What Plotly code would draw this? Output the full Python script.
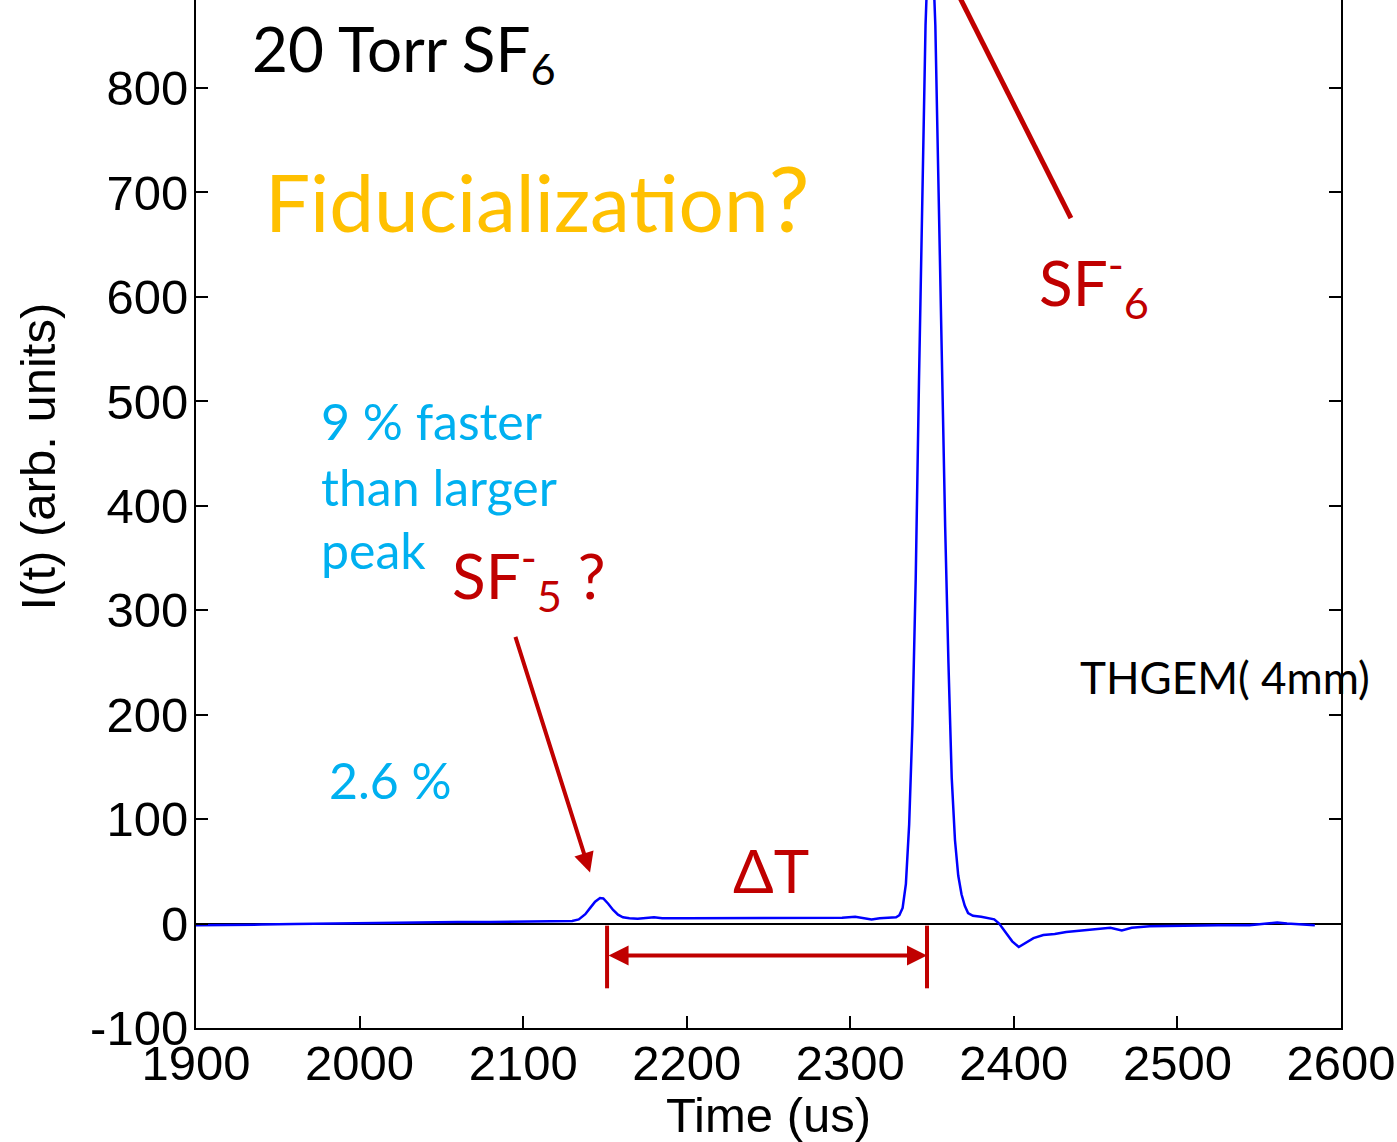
import plotly.graph_objects as go

# Measured current trace, 20 Torr SF6
time_us = [1900, 1920, 1940, 1960, 1980, 2000, 2020, 2040, 2060, 2080, 2100, 2120,
           2130, 2134, 2138, 2141, 2144, 2147, 2149, 2152, 2155, 2158, 2161, 2165,
           2170, 2180, 2185, 2200, 2220, 2240, 2260, 2280, 2295, 2303, 2308, 2313,
           2318, 2325, 2328, 2330, 2332, 2334, 2336, 2338, 2340, 2342, 2344, 2346,
           2348, 2349, 2350, 2352, 2354, 2356, 2358, 2360, 2362, 2364, 2366, 2368,
           2370, 2372, 2375, 2380, 2385, 2388, 2391, 2395, 2399, 2403, 2407, 2412,
           2418, 2425, 2432, 2445, 2459, 2466, 2472, 2483, 2503, 2525, 2544, 2555,
           2561, 2567, 2575, 2584]
current = [-1.5, -1.5, -1, -0.5, 0, 0.5, 1, 1, 1.5, 1.5, 2, 2,
           2.5, 4, 9, 15, 21, 24.5, 24, 19, 13, 8.5, 6, 5,
           4.5, 6, 5, 5, 5, 5, 5, 5, 5.5, 6.5, 5, 4,
           5, 5.5, 6, 8, 15, 38, 95, 190, 330, 520, 710, 860,
           950, 960, 945, 860, 700, 520, 380, 250, 140, 80, 46, 28,
           17, 10, 7.5, 6.5, 5, 4, 0, -8, -17, -22.5, -19, -14,
           -11, -10, -8, -6, -4, -6.5, -4, -2.5, -1.7, -1.5, -1.5, 0,
           1, 0, -1, -1.5]

x_ticks = [1900, 2000, 2100, 2200, 2300, 2400, 2500, 2600]
y_ticks = [-100, 0, 100, 200, 300, 400, 500, 600, 700, 800]
y_tick_labels = ["-100", "0", "100", "200", "300", "400", "500", "600", "700", "800"]

# Drift-time markers for the two peaks
t_small_peak = 2151.3
t_main_peak = 2346.9

AXIS_FONT = "Liberation Sans"
TEXT_FONT = "Lato"
RED = "#C00000"
CYAN = "#00B0F0"
ORANGE = "#FFC000"

fig = go.Figure()
fig.add_trace(go.Scatter(x=time_us, y=current, mode="lines",
                         line=dict(color="#0000FF", width=2.5),
                         showlegend=False, hoverinfo="skip"))

annotations = [
    dict(x=1933, y=834, text="20 Torr SF<sub>6</sub>",
         font=dict(family=TEXT_FONT, size=62, color="black")),
    dict(x=1941, y=696,
         text="Fiducialization<span style='font-size:92px'>?</span>",
         font=dict(family=TEXT_FONT, size=80, color=ORANGE)),
    dict(x=2414, y=614, text="SF<sup>-</sup><sub>6</sub>",
         font=dict(family=TEXT_FONT, size=62, color=RED)),
    dict(x=1975, y=481, text="9 % faster",
         font=dict(family=TEXT_FONT, size=50, color=CYAN)),
    dict(x=1975, y=418, text="than larger",
         font=dict(family=TEXT_FONT, size=50, color=CYAN)),
    dict(x=1975, y=358, text="peak",
         font=dict(family=TEXT_FONT, size=50, color=CYAN)),
    dict(x=2055, y=333, text="SF<sup>-</sup><sub>5</sub> ?",
         font=dict(family=TEXT_FONT, size=62, color=RED)),
    dict(x=1980, y=137, text="2.6 %",
         font=dict(family=TEXT_FONT, size=50, color=CYAN)),
    dict(x=2227, y=51, text="ΔT",
         font=dict(family=TEXT_FONT, size=60, color=RED)),
    dict(x=2439.5, y=236, text="THGEM( 4mm)",
         font=dict(family=TEXT_FONT, size=44, color="black")),
]
for a in annotations:
    a.update(xref="x", yref="y", xanchor="left", yanchor="middle", showarrow=False)

# Arrow pointing to the small peak
annotations.append(dict(x=2140.9, y=48.9, ax=2095.0, ay=275.9, xref="x", yref="y",
                        axref="x", ayref="y", text="", showarrow=True,
                        arrowhead=2, arrowsize=1, arrowwidth=4, arrowcolor=RED))
# Double arrow for the drift-time difference
annotations.append(dict(x=t_main_peak, y=-30.7, ax=t_small_peak, ay=-30.7, xref="x", yref="y",
                        axref="x", ayref="y", text="", showarrow=True,
                        arrowhead=2, startarrowhead=2, arrowside="end+start",
                        arrowsize=1, startarrowsize=1, arrowwidth=4, arrowcolor=RED))
# Vertical axis title
annotations.append(dict(x=-0.138, y=0.556, xref="paper", yref="paper",
                        text="I(t) (arb. units)", textangle=-90, showarrow=False,
                        xanchor="center", yanchor="middle",
                        font=dict(family=AXIS_FONT, size=49, color="black")))

shapes = [
    # Pointer line to the main SF6- peak
    dict(type="line", xref="x", yref="y", x0=2362.7, y0=900, x1=2434.9, y1=675.4,
         line=dict(color=RED, width=5)),
    # Bracket ends for the time difference
    dict(type="line", xref="x", yref="y", x0=t_small_peak, y0=-2, x1=t_small_peak, y1=-62,
         line=dict(color=RED, width=4)),
    dict(type="line", xref="x", yref="y", x0=t_main_peak, y0=-2, x1=t_main_peak, y1=-62,
         line=dict(color=RED, width=4)),
]

fig.update_layout(
    width=1397, height=1142,
    margin=dict(l=196, r=56, t=0, b=114),
    paper_bgcolor="white", plot_bgcolor="white",
    annotations=annotations, shapes=shapes,
    xaxis=dict(range=[1900, 2600], tickvals=x_ticks, ticks="inside", ticklen=12,
               tickwidth=2, tickcolor="black", showline=True, linecolor="black",
               linewidth=2, showgrid=False, zeroline=False, ticklabelstandoff=-9,
               tickfont=dict(family=AXIS_FONT, size=49, color="black"),
               title=dict(text="Time (us)", standoff=6,
                          font=dict(family=AXIS_FONT, size=49, color="black"))),
    yaxis=dict(range=[-100, 884.3], tickvals=y_ticks, ticktext=y_tick_labels,
               ticks="inside", ticklen=12,
               tickwidth=2, tickcolor="black", showline=True, linecolor="black",
               linewidth=2, mirror="ticks", showgrid=False, zeroline=True,
               zerolinecolor="black", zerolinewidth=2, ticklabelstandoff=-4,
               tickfont=dict(family=AXIS_FONT, size=49, color="black")),
)

fig.write_html("out.html")
